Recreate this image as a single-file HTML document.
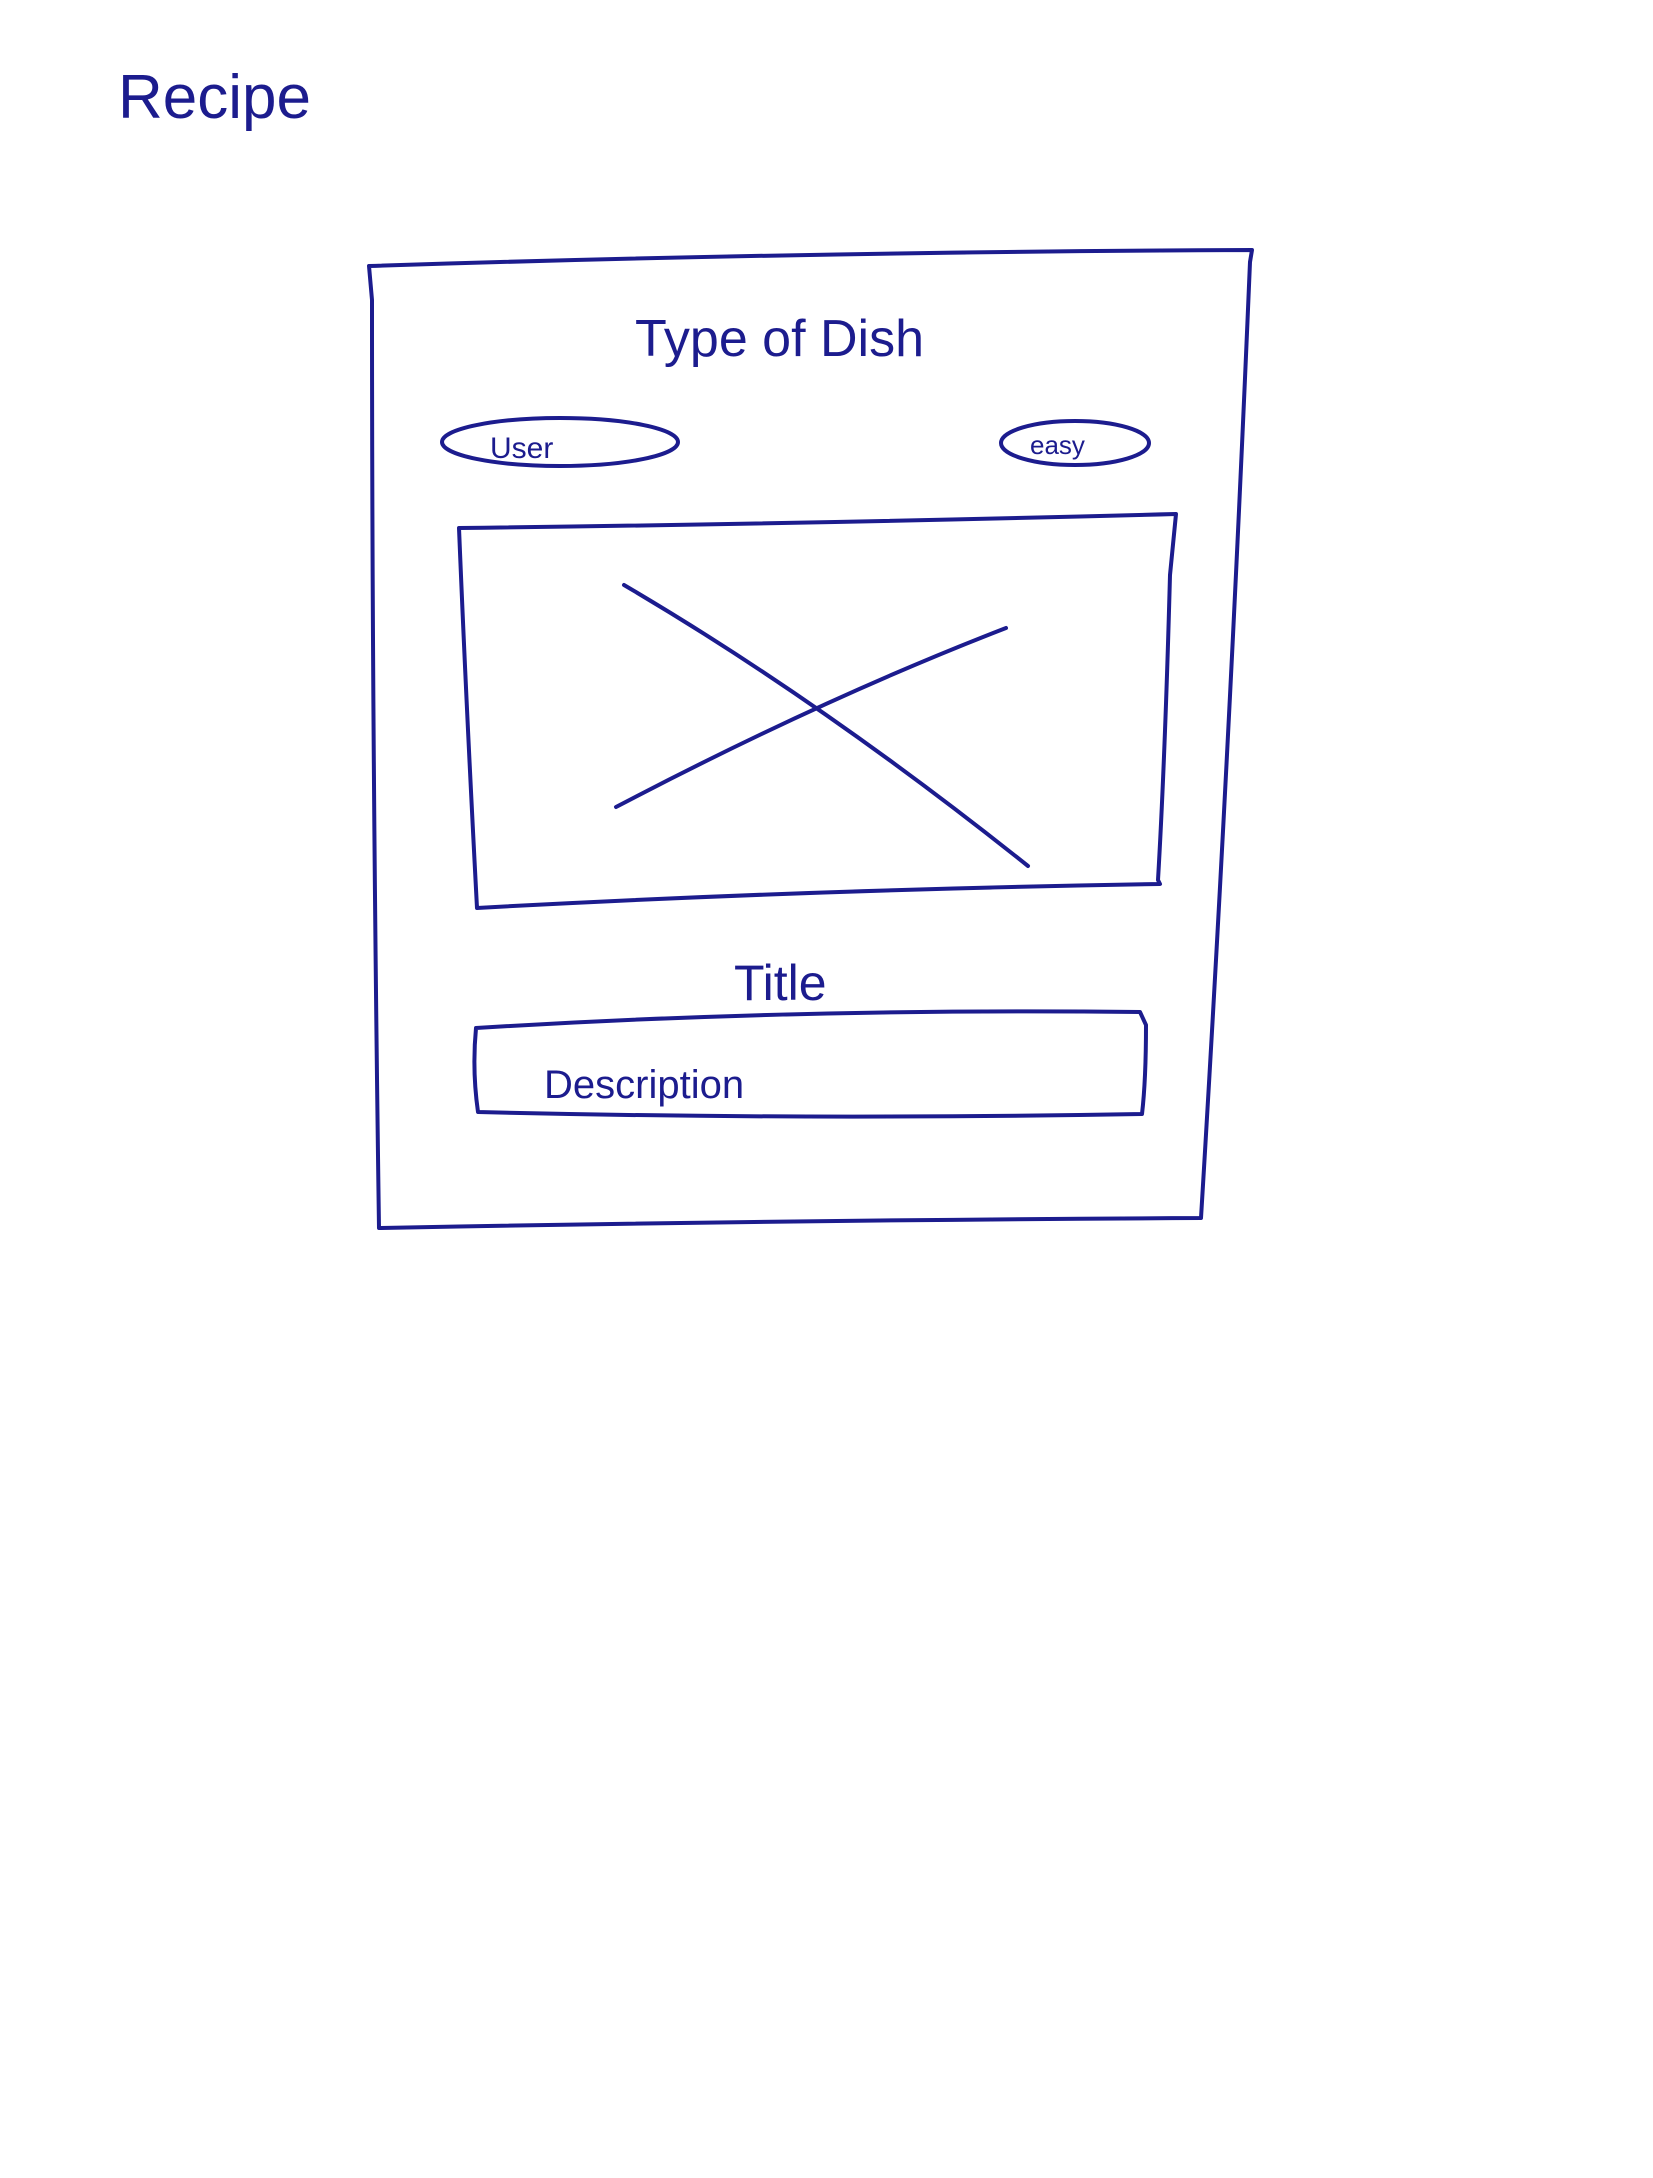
<!DOCTYPE html>
<html>
<head>
<meta charset="utf-8">
<style>
  html,body{margin:0;padding:0;background:#fff;}
  svg{display:block;}
  text{font-family:"Liberation Sans",sans-serif;fill:#1c1c8e;}
</style>
</head>
<body>
<svg width="1653" height="2178" viewBox="0 0 1653 2178" xmlns="http://www.w3.org/2000/svg">
  <g fill="none" stroke="#1c1c8e" stroke-width="4" stroke-linecap="round" stroke-linejoin="round">
    <text x="118" y="118" font-size="62" stroke="none">Recipe</text>

    <path d="M369 266 Q800 252 1252 250 L1250 262 Q1230 740 1201 1218 Q800 1220 379 1228 Q372 740 372 300 L369 266"/>

    <text x="635" y="356" font-size="52" stroke="none">Type of Dish</text>

    <ellipse cx="560" cy="442" rx="118" ry="24"/>
    <text x="490" y="458" font-size="30" stroke="none">User</text>

    <ellipse cx="1075" cy="443" rx="74" ry="22"/>
    <text x="1030" y="454" font-size="26" stroke="none">easy</text>

    <path d="M459 528 Q800 524 1176 514 L1170 575 Q1165 760 1158 880 L1160 884 Q800 890 477 908 Q466 700 459 528"/>
    <path d="M624 585 Q820 700 1028 866"/>
    <path d="M616 807 Q820 700 1006 628"/>

    <text x="734" y="1000" font-size="50" stroke="none">Title</text>

    <path d="M476 1028 Q800 1008 1140 1012 L1146 1025 Q1146 1080 1142 1114 Q800 1120 478 1112 Q472 1070 476 1028"/>
    <text x="544" y="1098" font-size="40" stroke="none">Description</text>
  </g>
</svg>
</body>
</html>
